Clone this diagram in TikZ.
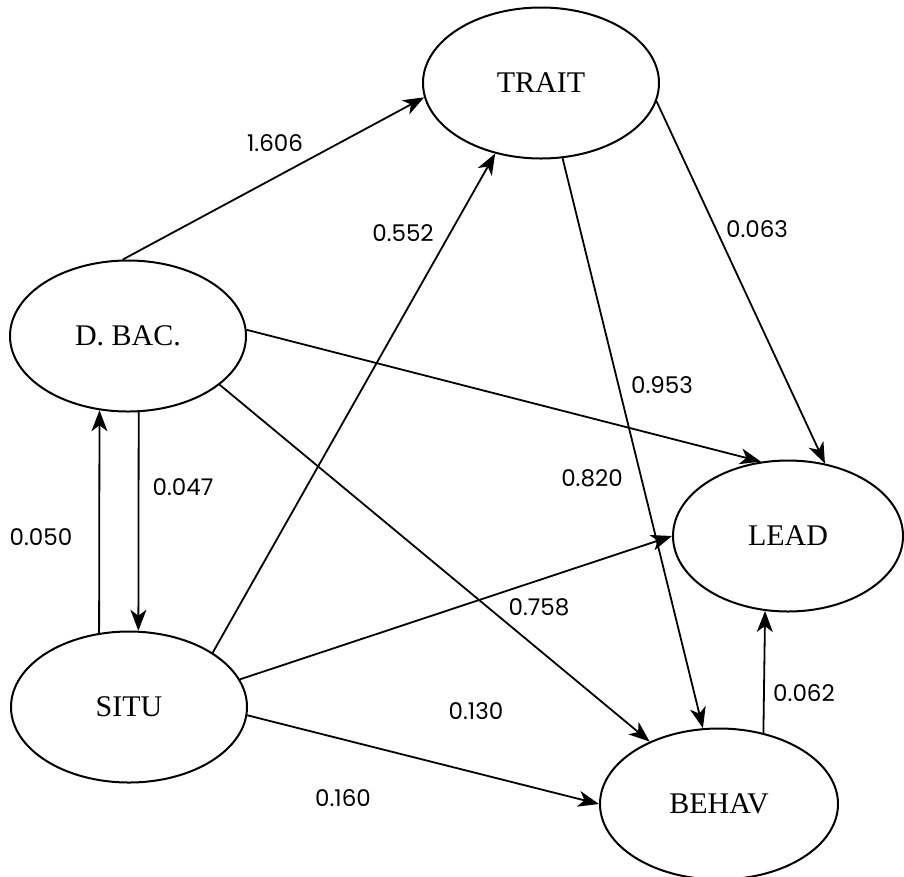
\documentclass[tikz,border=0pt]{standalone}
\usepackage{fontspec}
\setmainfont{Liberation Serif}
\newfontfamily\coeffont{Poppins}
\usetikzlibrary{shapes.geometric, arrows.meta}

\begin{document}
\begin{tikzpicture}[x=1pt, y=-1pt,
      latent/.style={ellipse, draw, line width=2pt, inner sep=0pt, minimum width=236pt, minimum height=151pt,
      font=\fontsize{30}{34}\selectfont},
      coef/.style={font=\coeffont\fontsize{23}{27}\selectfont, inner sep=0pt},
      link/.style={-{Stealth[length=21pt, width=16pt, inset=6pt]}, line width=1.8pt}
    ]
    \useasboundingbox (0,0) rectangle (904,876);

    % latent variables
    \node[latent] (trait) at (541,83) {TRAIT};
    \node[latent] (dbac) at (128,336) {D. BAC.};
    \node[latent] (situ) at (129,707) {SITU};
    \node[latent, minimum width=230pt] (lead) at (788,536) {LEAD};
    \node[latent, minimum width=238pt] (behav) at (719,804) {BEHAV};

    % paths
    \draw[link] (dbac.94) -- (trait.-173);
    \draw[link] (situ.33.5) -- (trait.-123);
    \draw[link] (trait.-9) -- (lead.63);
    \draw[link] (trait.-74.4) -- (behav.102);
    \draw[link] (dbac.3) -- (lead.110.6);
    \draw[link] (dbac.-28.8) -- (behav.138.7);
    \draw[link] (situ.14) -- (lead.180);
    \draw[link] (situ.-4.8) -- (behav.180);
    \draw[link] (dbac.-82.5) -- (situ.83.2);
    \draw[link] (situ.112.2) -- (dbac.-111.5);
    \draw[link] (behav.58.3) -- (lead.-107.6);

    % coefficients
    \node[coef] (c1606) at (275,143) {1.606};
    \node[coef] (c0552) at (403,233) {0.552};
    \node[coef] (c0063) at (757,229) {0.063};
    \node[coef] (c0953) at (662,385) {0.953};
    \node[coef] (c0820) at (592,478) {0.820};
    \node[coef] (c0047) at (183,487) {0.047};
    \node[coef] (c0050) at (41,537) {0.050};
    \node[coef] (c0758) at (539,607) {0.758};
    \node[coef] (c0130) at (476,711) {0.130};
    \node[coef] (c0062) at (804,693) {0.062};
    \node[coef] (c0160) at (343,798) {0.160};
  \end{tikzpicture}
\end{document}
